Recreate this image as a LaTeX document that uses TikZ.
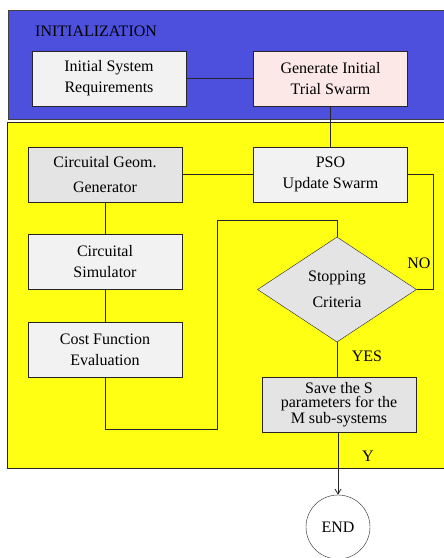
\documentclass[tikz,border=0pt]{standalone}
\usepackage{fontspec}
\setmainfont{Liberation Serif}
\usetikzlibrary{shapes.geometric,arrows.meta}

\definecolor{initblue}{RGB}{76,80,221}
\definecolor{loopyellow}{RGB}{255,255,20}
\definecolor{boxlight}{RGB}{242,242,242}
\definecolor{boxdark}{RGB}{228,228,228}
\definecolor{boxpink}{RGB}{253,232,232}

\tikzset{
  block/.style={draw=black!85, fill=boxlight, minimum width=154pt, minimum height=55pt,
    align=center, inner sep=0pt, font=\fontsize{16}{21}\selectfont},
  tag/.style={font=\fontsize{16}{18}\selectfont, inner sep=0pt},
  wire/.style={draw=black!85, line width=0.8pt}
}

\begin{document}
\begin{tikzpicture}[x=1pt,y=-1pt]
\useasboundingbox (0,0) rectangle (444,558);

% the two regions
\filldraw[fill=initblue, draw=black!75] (8,10) rectangle (452,119);
\filldraw[fill=loopyellow, draw=black!85] (7,122) rectangle (452,468);
\node[tag, anchor=west] (initlabel) at (35,31) {INITIALIZATION};

% blocks
\node[block] (req) at (109,78.5) {Initial System\\ Requirements};
\node[block, fill=boxpink] (gen) at (330.5,78.5) {Generate Initial\\ Trial Swarm};
\node[block, fill=boxdark, font=\fontsize{16}{25}\selectfont] (geom) at (105,174.5) {Circuital Geom.\\ Generator};
\node[block] (pso) at (330.5,174.5) {PSO\\ Update Swarm};
\node[block] (sim) at (105,262) {Circuital\\ Simulator};
\node[block] (cost) at (105,350) {Cost Function\\ Evaluation};
\node[block, diamond, fill=boxdark, minimum width=159pt, minimum height=105pt,
  font=\fontsize{16}{26}\selectfont] (crit) at (337,289.5) {Stopping\\ Criteria};
\node[block, fill=boxdark, font=\fontsize{16}{14.5}\selectfont] (save) at (339,404.5) {Save the S\\ parameters for the\\ M sub-systems};
\node[draw=black!85, fill=white, circle, minimum size=64pt, inner sep=0pt, tag] (endn) at (338,527) {END};

% connectors
\coordinate (noturn) at (433,177);
\coordinate (loopa) at (217,429);
\coordinate (loopb) at (217,220);

\draw[wire] (req.east) -- (gen.west);
\draw[wire] (gen.south) -- (pso.north);
\draw[wire] (geom.east) -- (pso.west);
\draw[wire] (pso.east) -- (pso.east -| noturn) |- (crit.east);
\draw[wire] (geom.south) -- (sim.north);
\draw[wire] (sim.south) -- (cost.north);
\draw[wire] (cost.south) |- (loopa) -- (loopb) -| (crit.north);
\draw[wire] (crit.south) -- (crit.south |- save.north);
\draw[wire, -{Straight Barb[length=5pt,width=6pt]}] (save.south -| endn.north) -- (endn.north);

% labels
\node[tag] (nolabel) at (419,263) {NO};
\node[tag] (yeslabel) at (367,356) {YES};
\node[tag] (ylabel) at (368,456) {Y};
\end{tikzpicture}
\end{document}
